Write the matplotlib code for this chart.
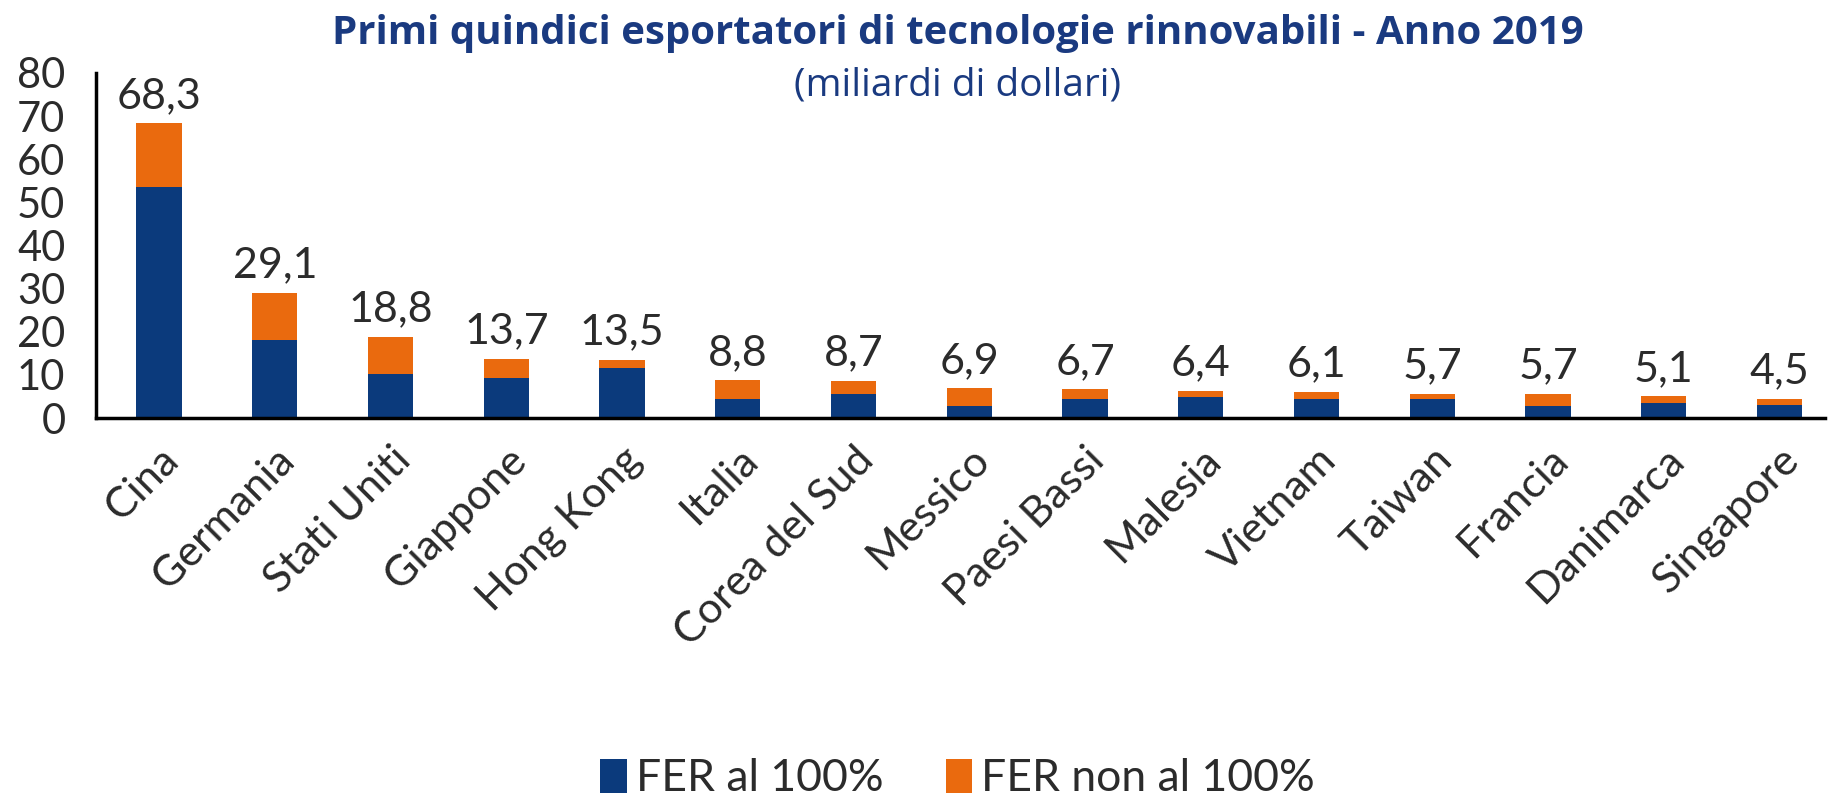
"""Primi quindici esportatori di tecnologie rinnovabili - 2019 (stacked bars)."""
import numpy as np
import matplotlib
matplotlib.use("Agg")
import matplotlib.pyplot as plt  # noqa: E402

countries = ["Cina", "Germania", "Stati Uniti", "Giappone", "Hong Kong", "Italia",
             "Corea del Sud", "Messico", "Paesi Bassi", "Malesia", "Vietnam",
             "Taiwan", "Francia", "Danimarca", "Singapore"]
totals = [68.3, 29.1, 18.8, 13.7, 13.5, 8.8, 8.7, 6.9, 6.7, 6.4, 6.1, 5.7, 5.7, 5.1, 4.5]
fer_100 = [53.5, 18.1, 10.3, 9.3, 11.5, 4.5, 5.5, 2.7, 4.5, 5.0, 4.5, 4.4, 2.7, 3.5, 3.1]
fer_non_100 = [round(t - b, 1) for t, b in zip(totals, fer_100)]
yticks = [0, 10, 20, 30, 40, 50, 60, 70, 80]

BLUE = "#0b3a7c"
ORANGE = "#ea6a0e"
NAVY = "#1a3a80"
TXT = "#2b2b2b"
FONT = ["Lato", "DejaVu Sans"]
TITLE_FONT = ["Open Sans", "DejaVu Sans"]

plt.rcParams["font.family"] = FONT

fig = plt.figure(figsize=(18.45, 8.01), dpi=100)
ax = fig.add_axes([0.052, 0.478, 0.937, 0.431])

x = np.arange(len(countries))
ax.bar(x, fer_100, width=0.39, color=BLUE, label="FER al 100%")
ax.bar(x, fer_non_100, width=0.39, bottom=fer_100, color=ORANGE, label="FER non al 100%")

for xi, t in zip(x, totals):
    ax.annotate(f"{t:.1f}".replace(".", ","), (xi, t), xytext=(0, 6),
                textcoords="offset points", ha="center", va="bottom",
                fontsize=31, color=TXT)

ax.set_xlim(-0.545, 14.39)
ax.set_ylim(0, 80)
ax.set_yticks(yticks)
ax.set_yticklabels([str(v) for v in yticks], fontsize=30, color=TXT)
ax.tick_params(axis="y", length=0, pad=22)
ax.set_xticks(x)
ax.set_xticklabels(countries, rotation=45, ha="right", rotation_mode="anchor",
                   fontsize=31, color=TXT)
ax.tick_params(axis="x", length=0, pad=16)

for s in ["top", "right"]:
    ax.spines[s].set_visible(False)
for s in ["left", "bottom"]:
    ax.spines[s].set_linewidth(2.5)
    ax.spines[s].set_color("black")

fig.text(0.519, 0.958, "Primi quindici esportatori di tecnologie rinnovabili - Anno 2019",
         ha="center", va="center", fontsize=29, fontweight="bold", color=NAVY,
         family=TITLE_FONT)
fig.text(0.519, 0.893, "(miliardi di dollari)", ha="center", va="center",
         fontsize=28, color=NAVY, family=TITLE_FONT)

leg = fig.legend(loc="center", bbox_to_anchor=(0.519, 0.028), ncol=2, frameon=False,
                 fontsize=32, handlelength=0.6, handleheight=0.8, handletextpad=0.2,
                 columnspacing=1.4)
for t in leg.get_texts():
    t.set_color(TXT)

fig.savefig("out.png", dpi=100)
